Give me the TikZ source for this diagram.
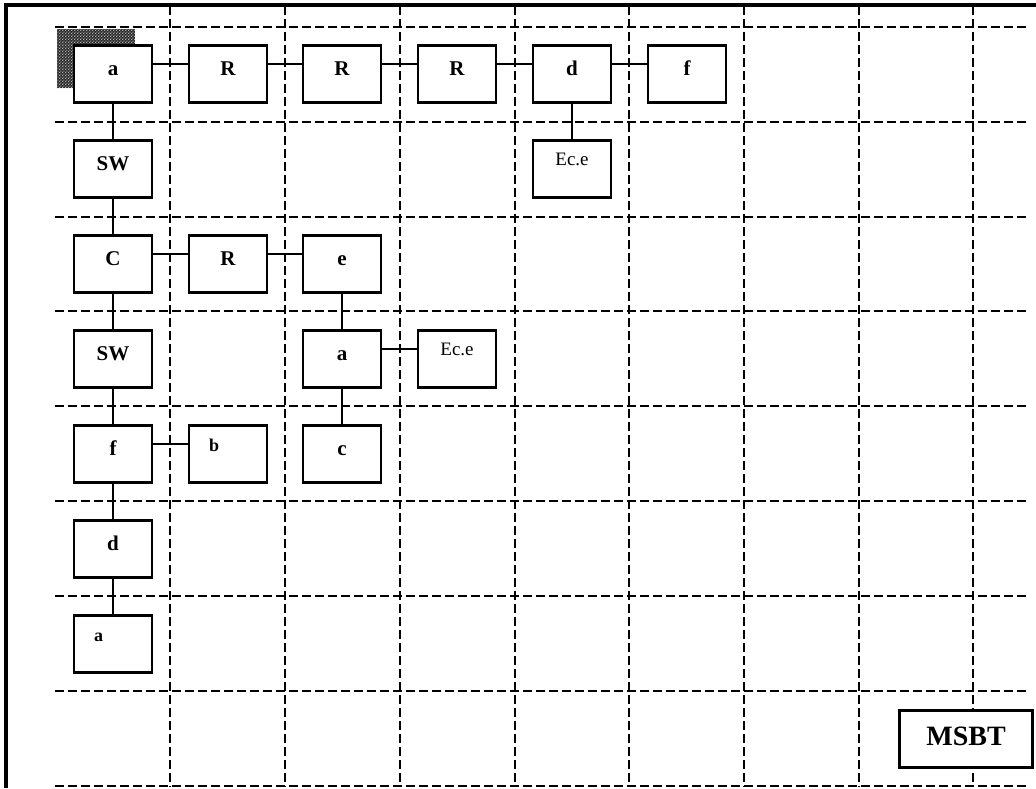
\documentclass[tikz,border=0pt]{standalone}
\usepackage{fontspec}
\setmainfont{Liberation Serif}
\usetikzlibrary{patterns}

\pgfdeclarepatternformonly{finedots}{\pgfpointorigin}{\pgfpoint{1.4pt}{1.4pt}}{\pgfpoint{1.4pt}{1.4pt}}{%
    \pgfpathcircle{\pgfpoint{0.35pt}{0.35pt}}{0.38pt}%
    \pgfpathcircle{\pgfpoint{1.05pt}{1.05pt}}{0.38pt}%
    \pgfusepath{fill}}

\begin{document}
\begin{tikzpicture}[x=0.5pt, y=-0.5pt,
    cellbox/.style={rectangle, draw, line width=1.2pt, fill=white, inner sep=0pt,
        minimum width=39pt, minimum height=28.5pt,
        font=\fontsize{10.5}{12}\selectfont\bfseries, text height=7pt, text depth=6pt},
    topbox/.style={cellbox, font=\fontsize{9.5}{11}\selectfont, text height=6.5pt, text depth=10.5pt},
    leftbox/.style={cellbox, font=\fontsize{9}{10}\selectfont\bfseries,
        text width=19pt, align=left, text height=6.5pt, text depth=9.5pt},
    link/.style={line width=1.2pt},
    gridline/.style={line width=1pt, dash pattern=on 4.5pt off 2pt}
]
    \useasboundingbox (0,0) rectangle (1036,788);

    % frame and dashed grid
    \draw[line width=1.8pt] (6,788) -- (6,5) -- (1036,5);
    \foreach \gy in {27,122,217,311,406,501,596,691,786}
        \draw[gridline] (55,\gy) -- (1030,\gy);
    \foreach \gx in {170,285,400,515,629,744,859,973}
        \draw[gridline] (\gx,6) -- (\gx,787);

    % marked start cell
    \path[fill=black!85, postaction={pattern=finedots, pattern color=white!75!black}]
        (57,29) rectangle (135,88);

    % row 1
    \node[cellbox] (a1) at (113,  74) {a};
    \node[cellbox] (r1) at (228,  74) {R};
    \node[cellbox] (r2) at (342,  74) {R};
    \node[cellbox] (r3) at (457,  74) {R};
    \node[cellbox] (d1) at (572,  74) {d};
    \node[cellbox] (f1) at (687,  74) {f};
    % row 2
    \node[cellbox] (sw1)  at (113, 169) {SW};
    \node[topbox]  (ece1) at (572, 169) {Ec.e};
    % row 3
    \node[cellbox] (c1) at (113, 264) {C};
    \node[cellbox] (r4) at (228, 264) {R};
    \node[cellbox] (e1) at (342, 264) {e};
    % row 4
    \node[cellbox] (sw2)  at (113, 359) {SW};
    \node[cellbox] (a2)   at (342, 359) {a};
    \node[topbox]  (ece2) at (457, 359) {Ec.e};
    % row 5
    \node[cellbox] (f2) at (113, 454) {f};
    \node[leftbox] (b1) at (228, 454) {b};
    \node[cellbox] (c2) at (342, 454) {c};
    % rows 6-7
    \node[cellbox] (d2) at (113, 549) {d};
    \node[leftbox] (a3) at (113, 644) {a};

    \node[cellbox, minimum width=66.5pt, font=\fontsize{14}{16}\selectfont\bfseries,
        text height=9.5pt, text depth=3pt] (msbt) at (966, 739) {MSBT};

    % horizontal links
    \draw[link] ([yshift=5pt]a1.east) -- ([yshift=5pt]r1.west);
    \draw[link] ([yshift=5pt]r1.east) -- ([yshift=5pt]r2.west);
    \draw[link] ([yshift=5pt]r2.east) -- ([yshift=5pt]r3.west);
    \draw[link] ([yshift=5pt]r3.east) -- ([yshift=5pt]d1.west);
    \draw[link] ([yshift=5pt]d1.east) -- ([yshift=5pt]f1.west);
    \draw[link] ([yshift=5pt]c1.east) -- ([yshift=5pt]r4.west);
    \draw[link] ([yshift=5pt]r4.east) -- ([yshift=5pt]e1.west);
    \draw[link] ([yshift=5pt]a2.east) -- ([yshift=5pt]ece2.west);
    \draw[link] ([yshift=5pt]f2.east) -- ([yshift=5pt]b1.west);

    % vertical links
    \draw[link] (a1)  -- (sw1);
    \draw[link] (sw1) -- (c1);
    \draw[link] (c1)  -- (sw2);
    \draw[link] (sw2) -- (f2);
    \draw[link] (f2)  -- (d2);
    \draw[link] (d2)  -- (a3);
    \draw[link] (d1)  -- (ece1);
    \draw[link] (e1)  -- (a2);
    \draw[link] (a2)  -- (c2);
\end{tikzpicture}
\end{document}
